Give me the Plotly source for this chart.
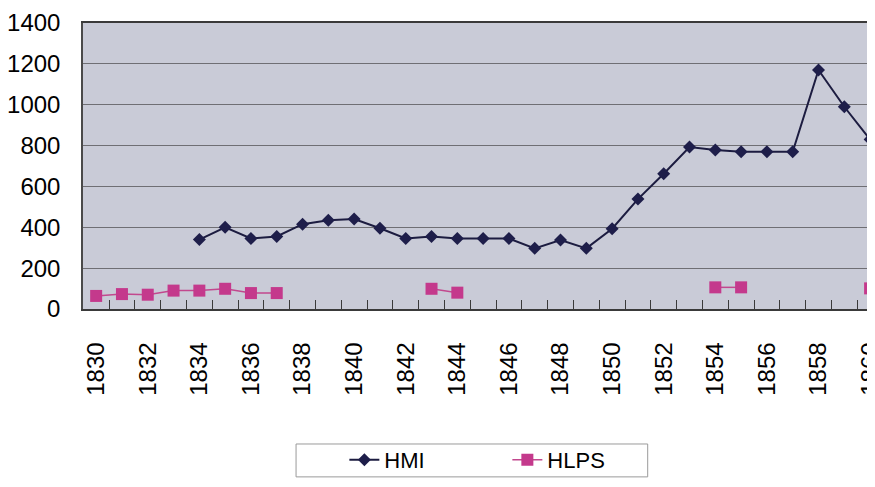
# Line chart: HMI and HLPS per year, 1830-1860

import plotly.graph_objects as go

years = list(range(1830, 1861))

# HMI values (None where no data)
hmi = [None, None, None, None, 340, 400, 345, 355, 415, 435, 440, 395,
       345, 355, 345, 345, 345, 297, 338, 297, 393, 538, 662, 793, 778,
       770, 770, 770, 1170, 990, 830]

# HLPS values (None where no data)
hlps = [64, 73, 70, 90, 90, 99, 78, 78, None, None, None, None, None,
        99, 80, None, None, None, None, None, None, None, None, None, 106,
        106, None, None, None, None, 101]

# tick marks sit between the years (like a category axis); every second
# year gets a label, shifted half a year to the right onto the point
tick_edges = [y - 0.5 for y in years]
tick_text = [str(y) if y % 2 == 0 else '' for y in years]
half_year_px = 13

fig = go.Figure()

# HMI
fig.add_trace(
    go.Scatter(
        x=years,
        y=hmi,
        name="HMI",
        mode='lines+markers',
        line=dict(color='#1c1c40', width=2),
        marker=dict(symbol='diamond', size=10, color='#1e1e4a'),
        connectgaps=False
    )
)

# HLPS
fig.add_trace(
    go.Scatter(
        x=years,
        y=hlps,
        name="HLPS",
        mode='lines+markers',
        line=dict(color='#c2488e', width=1.5),
        marker=dict(symbol='square', size=12, color='#c4398c'),
        connectgaps=False
    )
)

# the page body has an 8px margin, so the figure is 8px smaller than the
# window and all margins are shifted by 8px
fig.update_layout(
    width=867,
    height=479,
    paper_bgcolor='white',
    plot_bgcolor='#c9cbd7',
    font=dict(family="Liberation Sans, Arial, sans-serif", color='black'),
    margin=dict(l=75, r=0, t=15, b=178, autoexpand=False),
    xaxis=dict(
        range=[1829.49, 1860.19],
        tickmode='array',
        tickvals=tick_edges,
        ticktext=tick_text,
        tickangle=-90,
        tickfont=dict(size=24),
        ticks='inside',
        ticklen=9,
        tickcolor='#3a3a3a',
        tickwidth=1,
        ticklabelshift=half_year_px,
        ticklabelstandoff=22,
        ticklabeloverflow='allow',
        showgrid=False,
        zeroline=False,
        showline=True,
        linecolor='#3a3a3a',
        linewidth=1.5,
        mirror=True
    ),
    yaxis=dict(
        range=[0, 1400],
        dtick=200,
        tickfont=dict(size=24),
        ticks='',
        ticklabelstandoff=16,
        showgrid=True,
        gridcolor='#6f6f74',
        gridwidth=1,
        zeroline=False,
        showline=True,
        linecolor='#4a4a4a',
        linewidth=1.5
    ),
    legend=dict(
        orientation='h',
        x=0.33,
        xanchor='left',
        y=-0.528,
        yanchor='middle',
        bgcolor='rgba(0,0,0,0)',
        borderwidth=0,
        font=dict(size=22),
        entrywidth=118,
        entrywidthmode='pixels'
    ),
    showlegend=True
)

# frame round the legend
fig.add_shape(
    type='rect',
    xref='paper',
    yref='paper',
    x0=0.269,
    x1=0.713,
    y0=-0.587,
    y1=-0.472,
    line=dict(color='#9a9a9a', width=1),
    fillcolor='white',
    layer='below'
)

fig.write_html("out.html")
